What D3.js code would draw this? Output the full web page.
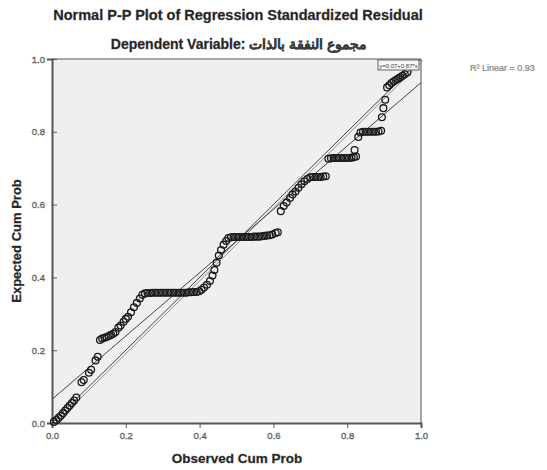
<!DOCTYPE html>
<html><head><meta charset="utf-8">
<script src="https://cdn.jsdelivr.net/npm/d3@7"></script>
<style>body{margin:0;background:#fff}svg{display:block}</style>
</head><body>
<svg id="c" width="547" height="470"></svg>
<script>
const title = "Normal P-P Plot of Regression Standardized Residual";
const subtitle = "Dependent Variable: مجموع النفقة بالذات";
const xLabel = "Observed Cum Prob";
const yLabel = "Expected Cum Prob";
const tickValues = [0, 0.2, 0.4, 0.6, 0.8, 1.0];
const fitLabel = "y=0.07+0.87*x";
const r2Label = "R² Linear = 0.93";
const fitIntercept = 0.065, fitSlope = 0.87;

const observed = [
 0.005,0.012,0.018,0.024,0.030,0.036,0.042,0.048,0.054,0.060,0.066,
 0.080,0.086,0.100,0.106,0.118,0.124,
 0.130,0.136,0.142,0.148,0.154,0.160,0.166,0.172,
 0.180,0.186,0.194,0.200,0.206,0.214,0.222,0.230,0.238,0.245,
 0.252,0.259,0.266,0.273,0.280,0.287,0.294,0.301,0.308,0.315,0.322,0.329,0.336,0.343,0.350,0.357,0.364,0.371,0.378,0.385,0.392,0.399,
 0.405,0.412,0.420,0.428,0.435,0.440,0.446,0.452,0.458,0.465,0.472,
 0.478,0.485,0.492,0.499,0.506,0.513,0.520,0.527,0.534,0.541,0.548,0.555,0.562,0.569,0.576,0.583,0.590,0.597,0.606,0.612,
 0.620,0.628,0.636,0.645,0.652,0.660,0.668,0.676,0.684,0.692,
 0.700,0.707,0.714,0.721,0.728,0.735,0.742,
 0.749,0.756,0.763,0.770,0.777,0.784,0.791,0.798,0.805,0.812,0.818,0.824,
 0.820,0.830,
 0.836,0.843,0.850,0.857,0.864,0.871,0.878,0.885,0.892,
 0.894,0.898,0.903,
 0.908,0.914,0.920,0.926,0.932,0.938,0.944,0.950,0.956,0.963
];
const expected = [
 0.003,0.008,0.014,0.020,0.027,0.034,0.041,0.048,0.055,0.062,0.070,
 0.112,0.118,0.138,0.146,0.172,0.182,
 0.228,0.232,0.234,0.236,0.239,0.242,0.245,0.250,
 0.262,0.268,0.278,0.286,0.292,0.304,0.318,0.330,0.342,0.352,
 0.356,0.357,0.357,0.358,0.358,0.358,0.358,0.358,0.358,0.358,0.358,0.358,0.358,0.358,0.358,0.358,0.358,0.359,0.359,0.360,0.360,0.362,
 0.366,0.372,0.380,0.390,0.405,0.420,0.440,0.460,0.475,0.490,0.500,
 0.508,0.510,0.511,0.511,0.511,0.511,0.511,0.511,0.511,0.511,0.512,0.512,0.512,0.513,0.514,0.515,0.516,0.518,0.522,0.524,
 0.582,0.596,0.606,0.618,0.628,0.636,0.646,0.656,0.664,0.670,
 0.675,0.676,0.676,0.676,0.676,0.677,0.678,
 0.726,0.727,0.728,0.728,0.728,0.728,0.728,0.728,0.728,0.729,0.730,0.732,
 0.750,0.786,
 0.798,0.800,0.800,0.800,0.800,0.800,0.800,0.801,0.803,
 0.840,0.865,0.888,
 0.922,0.928,0.934,0.938,0.942,0.946,0.950,0.954,0.958,0.963
];

const svg = d3.select("#c");
const L = 52, R = 421, T = 59, B = 423;
const x = d3.scaleLinear().domain([0,1]).range([L,R]);
const y = d3.scaleLinear().domain([0,1]).range([B,T]);
const font = "'Liberation Sans', Arial, sans-serif";

svg.append("text").attr("x",238).attr("y",20).attr("text-anchor","middle")
  .attr("font-family",font).attr("font-weight","bold").attr("font-size",14.5)
  .attr("fill","#222").attr("stroke","#444").attr("stroke-width",0.3).text(title);
svg.append("text").attr("x",239).attr("y",49).attr("text-anchor","middle")
  .attr("font-family",font).attr("font-weight","bold").attr("font-size",14)
  .attr("fill","#222").attr("stroke","#444").attr("stroke-width",0.3).text(subtitle);

// plot background
svg.append("rect").attr("x",L).attr("y",T).attr("width",R-L).attr("height",B-T)
  .attr("fill","#efefef");
// top and right frame
svg.append("line").attr("x1",L).attr("x2",R).attr("y1",T).attr("y2",T).attr("stroke","#8a8a8a").attr("stroke-width",1.5);
svg.append("line").attr("x1",R).attr("x2",R).attr("y1",T).attr("y2",B).attr("stroke","#8a8a8a").attr("stroke-width",1.5);

const gx = svg.append("g").attr("transform",`translate(0,${B})`)
  .call(d3.axisBottom(x).tickValues(tickValues).tickFormat(d3.format(".1f")).tickSize(5).tickPadding(4));
const gy = svg.append("g").attr("transform",`translate(${L},0)`)
  .call(d3.axisLeft(y).tickValues(tickValues).tickFormat(d3.format(".1f")).tickSize(5).tickPadding(2));
[gx,gy].forEach(g=>{
  g.select(".domain").attr("stroke","#555").attr("stroke-width",2);
  g.selectAll(".tick line").attr("stroke","#555");
  g.selectAll(".tick text").attr("font-family",font).attr("font-size",9.5).attr("fill","#999")
    .attr("stroke","#555").attr("stroke-width",0.4);
});
gy.selectAll(".tick line").attr("x2",5).attr("x1",0);

// reference diagonal (double stroke) and fit line
const line = d3.line().x(d=>x(d[0])).y(d=>y(d[1]));
svg.append("path").attr("d",line([[0,0],[1,1]])).attr("stroke","#444").attr("stroke-width",1).attr("fill","none");
svg.append("path").attr("d",line([[0,0],[1,1]])).attr("transform","translate(2,1.5)")
  .attr("stroke","#777").attr("stroke-width",0.8).attr("fill","none");
svg.append("path").attr("d",line([[0,fitIntercept],[1,fitIntercept+fitSlope]]))
  .attr("stroke","#444").attr("stroke-width",1).attr("fill","none");

// points
svg.append("g").selectAll("circle").data(observed.map((o,i)=>[o,expected[i]]))
  .join("circle").attr("cx",d=>x(d[0])).attr("cy",d=>y(d[1])).attr("r",3.4)
  .attr("fill","none").attr("stroke","#1a1a1a").attr("stroke-width",1.3);

// fit label box
svg.append("rect").attr("x",378).attr("y",60).attr("width",41).attr("height",10)
  .attr("fill","#f6f6f6").attr("stroke","#666").attr("stroke-width",1);
svg.append("text").attr("x",398.5).attr("y",67.5).attr("text-anchor","middle")
  .attr("font-family",font).attr("font-size",6).attr("fill","#444").text(fitLabel);
svg.append("text").attr("x",470).attr("y",71).attr("font-family",font).attr("font-size",9)
  .attr("fill","#888").attr("stroke","#777").attr("stroke-width",0.2).text(r2Label);

// axis titles
svg.append("text").attr("x",237).attr("y",463).attr("text-anchor","middle")
  .attr("font-family",font).attr("font-weight","bold").attr("font-size",13.5)
  .attr("fill","#222").attr("stroke","#444").attr("stroke-width",0.3).text(xLabel);
svg.append("text").attr("transform","translate(21,241) rotate(-90)").attr("text-anchor","middle")
  .attr("font-family",font).attr("font-weight","bold").attr("font-size",13)
  .attr("fill","#222").attr("stroke","#444").attr("stroke-width",0.3).text(yLabel);
</script>
</body></html>
